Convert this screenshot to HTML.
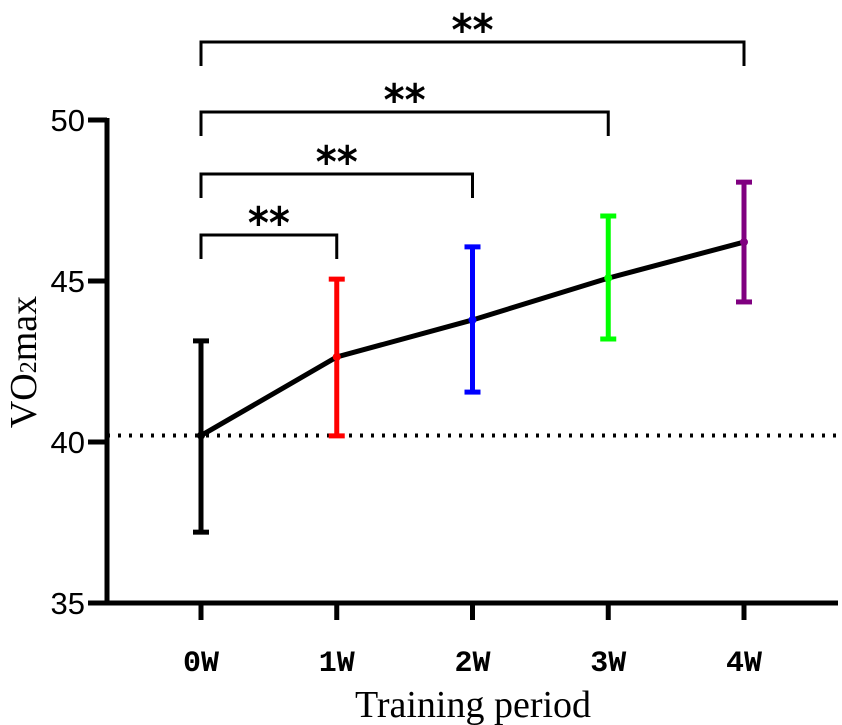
<!DOCTYPE html>
<html><head><meta charset="utf-8"><style>
html,body{margin:0;padding:0;background:#fff;}
svg{display:block;}
</style></head><body>
<svg id="chart" width="842" height="725" viewBox="0 0 842 725" xmlns="http://www.w3.org/2000/svg"></svg>
<script>
const categories = ["0W","1W","2W","3W","4W"];
const means = [40.2, 42.64, 43.79, 45.09, 46.21];
const upper = [43.14, 45.06, 46.06, 47.02, 48.07];
const lower = [37.2, 40.19, 41.55, 43.2, 44.35];
const colors = ["#000000","#ff0000","#0000ff","#00ff00","#800080"];
const yTicks = [35, 40, 45, 50];
const baseline = 40.2;
const comparisons = [[0,1],[0,2],[0,3],[0,4]];
const sigLabels = ["**","**","**","**"];

const NS = "http://www.w3.org/2000/svg";
const svg = document.getElementById("chart");
const x = i => 201 + i * 135.75;
const y = v => 603 - (v - 35) * 32.2;
function el(tag, attrs, parent) {
  const e = document.createElementNS(NS, tag);
  for (const k in attrs) e.setAttribute(k, attrs[k]);
  (parent || svg).appendChild(e);
  return e;
}

let ax = el("line", {x1:107, y1:y(50)-2, x2:107, y2:605, stroke:"#000","stroke-width":5});


ax = el("line", {x1:105, y1:603, x2:838, y2:603, stroke:"#000","stroke-width":5});



yTicks.forEach(t => {
  const tk = el("line", {x1:88, y1:y(t), x2:107, y2:y(t), stroke:"#000","stroke-width":5});
  
  
  const tl = el("text", {x:85, y:y(t)+11, "text-anchor":"end", "font-family":"Liberation Sans, sans-serif", "font-size":31});
  tl.textContent = t;
  
  
});

categories.forEach((c, i) => {
  const tk = el("line", {x1:x(i), y1:603, x2:x(i), y2:620, stroke:"#000","stroke-width":5});
  
  
  const tl = el("text", {x:x(i), y:671, "text-anchor":"middle", "font-family":"Liberation Mono, monospace", "font-size":30, "font-weight":"bold", textLength:36, lengthAdjust:"spacingAndGlyphs"});
  tl.textContent = c;
  
  
});

const bl = el("line", {x1:107, y1:y(baseline), x2:836, y2:y(baseline), stroke:"#000","stroke-width":4,"stroke-dasharray":"3 8"});



categories.forEach((c, i) => {
  const g = el("g", {stroke:colors[i], "stroke-width":5});
  
  
  el("line", {x1:x(i), y1:y(upper[i]), x2:x(i), y2:y(lower[i])}, g);
  el("line", {x1:x(i)-8, y1:y(upper[i]), x2:x(i)+8, y2:y(upper[i])}, g);
  el("line", {x1:x(i)-8, y1:y(lower[i]), x2:x(i)+8, y2:y(lower[i])}, g);
});

const pts = means.map((m, i) => x(i) + "," + y(m)).join(" ");
const ml = el("polyline", {points:pts, fill:"none", stroke:"#000", "stroke-width":5});


means.forEach((m, i) => {
  const p = el("circle", {cx:x(i), cy:y(m), r:4, fill:colors[i]});
  
  
});

const bracketY = [235, 174, 112, 42];
comparisons.forEach((cp, k) => {
  const x1 = x(cp[0]), x2 = x(cp[1]), by = bracketY[k];
  const b = el("polyline", {points:`${x1},${by+24} ${x1},${by} ${x2},${by} ${x2},${by+24}`, fill:"none", stroke:"#000", "stroke-width":3});
  
  
  const s = el("text", {x:(x1 + x2) / 2, y:by+3, "text-anchor":"middle", "font-family":"DejaVu Sans, sans-serif", "font-size":44, "font-weight":"bold", textLength:42, lengthAdjust:"spacingAndGlyphs"});
  s.textContent = sigLabels[k];
  
  
});

const xt = el("text", {x:473, y:717, "text-anchor":"middle", "font-family":"Liberation Serif, serif", "font-size":38});
xt.textContent = "Training period";



const yt = el("text", {x:0, y:0, "text-anchor":"middle", "font-family":"Liberation Serif, serif", "font-size":38, transform:"translate(36,362) rotate(-90)"});
yt.innerHTML = 'VO<tspan font-size="24">2</tspan>max';


</script>
</body></html>
